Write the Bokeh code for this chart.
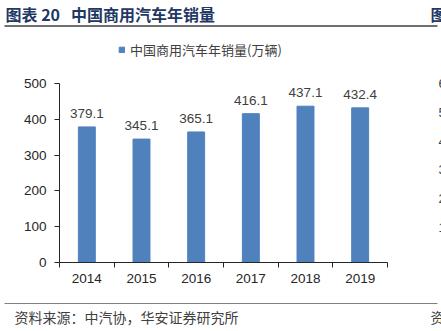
from bokeh.plotting import figure
from bokeh.models import Range1d, FixedTicker, Legend, LegendItem, ColumnDataSource
from bokeh.core.properties import value
from bokeh.embed import file_html
from bokeh.resources import INLINE

years = ["2014", "2015", "2016", "2017", "2018", "2019"]
sales = [379.1, 345.1, 365.1, 416.1, 437.1, 432.4]
y_ticks = [0, 100, 200, 300, 400, 500]
title_text = "图表\u00a020\u00a0\u00a0\u00a0中国商用汽车年销量"
legend_text = "中国商用汽车年销量(万辆)"
source_text = "资料来源：中汽协，华安证券研究所"
edge_ticks = ["6", "5", "4", "3", "2", "1"]   # cut-off axis of the neighbouring chart
edge_title = "图"
edge_source = "资"

W, H = 441, 331
CJK = "Noto Sans CJK SC"
NUM = "Liberation Sans"

# plot geometry (canvas pixels from top-left)
AX_X, AX_Y, TOP500 = 59, 262, 83.2
n = len(years)
cat_px = (387 - AX_X) / n
ppu = (AX_Y - TOP500) / 500.0
x_start = 0.5 - AX_X / cat_px
x_end = x_start + W / cat_px
y_end = AX_Y / ppu
y_start = y_end - H / ppu


def dx(px):
    return x_start + px / cat_px


def dy(py):
    return y_end - py / ppu


xs = list(range(1, n + 1))
src = ColumnDataSource(dict(x=xs, top=sales, lab=[f"{v:.1f}" for v in sales]))

p = figure(width=W, height=H, output_backend="svg", toolbar_location=None,
           x_range=Range1d(x_start, x_end), y_range=Range1d(y_start, y_end),
           min_border=0, min_border_left=0, min_border_right=0,
           min_border_top=0, min_border_bottom=0)
p.outline_line_color = None
p.grid.visible = False

bars = p.vbar(x="x", top="top", width=0.31, source=src,
              fill_color="#4F81BD", line_color="#4F81BD")
p.text(x="x", y="top", text="lab", source=src, text_align="center",
       text_baseline="bottom", y_offset=-9, text_font_size="13.5px",
       text_color="#404040", text_font=value(NUM))

ax = p.xaxis[0]
ax.fixed_location = 0
ax.bounds = (0.5, n + 0.5)
ax.ticker = FixedTicker(ticks=xs, minor_ticks=[i + 0.5 for i in range(0, n + 1)])
ax.major_label_overrides = {i: y for i, y in zip(xs, years)}
ax.major_tick_out = 0
ax.major_tick_in = 0
ax.minor_tick_out = 5
ax.minor_tick_in = 0
ax.minor_tick_line_color = "#262626"
ax.axis_line_color = "#262626"
ax.major_label_standoff = 6
ax.major_label_text_font = NUM
ax.major_label_text_font_size = "13.5px"
ax.major_label_text_color = "#262626"

ay = p.yaxis[0]
ay.fixed_location = 0.5
ay.bounds = (0, 500)
ay.ticker = FixedTicker(ticks=y_ticks)
ay.minor_tick_line_color = None
ay.major_tick_out = 5
ay.major_tick_in = 0
ay.major_tick_line_color = "#262626"
ay.axis_line_color = "#262626"
ay.major_label_standoff = 8
ay.major_label_text_font = NUM
ay.major_label_text_font_size = "13.5px"
ay.major_label_text_color = "#262626"

# cut-off tick labels of the neighbouring chart at the right edge
edge_py = [83 + i * 28.8 for i in range(len(edge_ticks))]
p.text(x=[dx(438)] * len(edge_ticks), y=[dy(v) for v in edge_py], text=edge_ticks,
       text_font=value(NUM), text_font_size="13px", text_color="#404040",
       text_baseline="middle")

# report title, rule, source line
p.text(x=[dx(5)], y=[dy(13)], text=[title_text], text_font=value(CJK), text_font_size="16px",
       text_font_style="bold", text_color="#1F3864", text_baseline="middle")
p.text(x=[dx(430)], y=[dy(13)], text=[edge_title], text_font=value(CJK), text_font_size="16px",
       text_font_style="bold", text_color="#1F3864", text_baseline="middle")
p.segment(x0=[dx(4)], x1=[dx(437)], y0=[dy(25.5)], y1=[dy(25.5)], line_color="#404040", line_width=1.5)

p.segment(x0=[dx(4)], x1=[dx(437)], y0=[dy(303)], y1=[dy(303)], line_color="#808080", line_width=1.2)
p.text(x=[dx(14)], y=[dy(316)], text=[source_text], text_font=value(CJK), text_font_size="14px",
       text_color="#404040", text_baseline="middle")
p.text(x=[dx(430)], y=[dy(316)], text=[edge_source], text_font=value(CJK), text_font_size="14px",
       text_color="#404040", text_baseline="middle")

leg = Legend(items=[LegendItem(label=legend_text, renderers=[bars])],
             location=(118, H - 51 - 8), glyph_width=7, glyph_height=7,
             label_standoff=5, padding=0, margin=0, spacing=0,
             border_line_color=None, background_fill_alpha=0,
             label_text_font=CJK, label_text_font_size="13px",
             label_text_color="#404040", label_height=7, label_text_baseline="middle")
p.add_layout(leg)

open("out.html", "w").write(file_html(p, INLINE))
